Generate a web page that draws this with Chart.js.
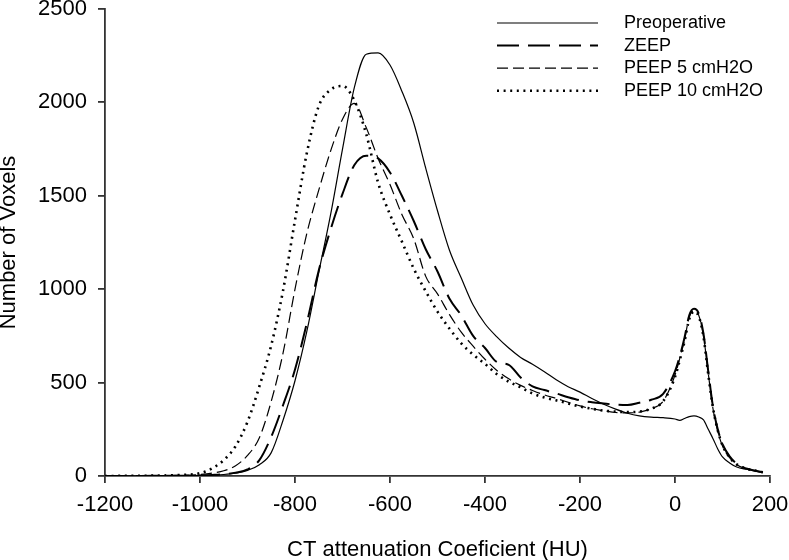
<!DOCTYPE html>
<html>
<head>
<meta charset="utf-8">
<title>CT attenuation histogram</title>
<script src="https://cdn.jsdelivr.net/npm/chart.js@4"></script>
<style>
  body { margin: 0; background: #fff; }
  canvas { display: block; }
</style>
</head>
<body>
<canvas id="chart" width="789" height="560"></canvas>
<script>
// HU bins (x values shared by all curves)
const hu = [-1200, -1150, -1100, -1050, -1000, -975, -950, -925, -900, -875, -850, -825, -800, -775, -750, -725,
  -700, -675, -650, -625, -600, -575, -550, -525, -500, -475, -450, -425, -400, -375, -350, -325, -300, -275,
  -250, -225, -200, -175, -150, -125, -100, -75, -50, -25, 0, 10, 20, 30, 40, 50, 60, 70, 80, 90, 100, 115,
  130, 150, 170, 185];

// Number of voxels
const preop = [0, 0, 1, 1, 3, 5, 8, 15, 30, 60, 125, 300, 510, 775, 1090, 1400,
  1750, 2080, 2258, 2265, 2200, 2060, 1890, 1650, 1420, 1210, 1060, 915, 815, 745, 685, 635, 598, 558,
  515, 478, 449, 415, 384, 358, 336, 322, 315, 312, 305, 298, 308, 318, 322, 316, 300, 250, 200, 145, 102, 70,
  48, 36, 27, 20];
const zeep = [0, 0, 1, 1, 3, 6, 10, 18, 35, 85, 210, 380, 570, 820, 1100, 1320,
  1510, 1665, 1715, 1700, 1625, 1500, 1365, 1215, 1095, 950, 860, 750, 685, 610, 595, 527, 480, 460,
  442, 422, 405, 395, 388, 382, 380, 392, 408, 440, 560, 640, 740, 860, 895, 870, 760, 560, 370, 250, 170, 105,
  65, 40, 28, 20];
const peep5 = [0, 0, 1, 3, 8, 15, 28, 55, 110, 205, 400, 660, 1000, 1300, 1530, 1740,
  1910, 1995, 1865, 1700, 1560, 1400, 1270, 1070, 975, 865, 770, 695, 625, 565, 520, 485, 458, 434,
  415, 395, 375, 360, 350, 340, 338, 342, 360, 400, 540, 630, 730, 850, 885, 860, 750, 550, 360, 240, 160, 98,
  60, 38, 26, 18];
const peep10 = [0, 1, 2, 5, 15, 40, 85, 160, 290, 480, 700, 995, 1370, 1730, 1980, 2068,
  2088, 2010, 1830, 1570, 1400, 1255, 1110, 990, 880, 790, 710, 650, 600, 545, 505, 475, 442, 420,
  405, 388, 372, 360, 350, 345, 342, 345, 360, 400, 530, 620, 720, 840, 880, 855, 745, 545, 365, 245, 165, 100,
  62, 40, 28, 20];

const seriesNames = ["Preoperative", "ZEEP", "PEEP 5 cmH2O", "PEEP 10 cmH2O"];
const xTicks = [-1200, -1000, -800, -600, -400, -200, 0, 200];
const yTicks = [0, 500, 1000, 1500, 2000, 2500];

const FONT = '"Liberation Sans", Arial, sans-serif';

function toPoints(values) {
  return hu.map((x, i) => ({ x: x, y: values[i] }));
}

// legend drawn top right, inside the plot, with line samples
const lineLegend = {
  id: "lineLegend",
  afterDraw(chart) {
    const ctx = chart.ctx;
    chart.data.datasets.forEach((ds, i) => {
      const y = 23 + i * 22.6;
      ctx.save();
      ctx.strokeStyle = "#000";
      ctx.lineWidth = ds.borderWidth;
      ctx.setLineDash(ds.borderDash || []);
      ctx.beginPath();
      ctx.moveTo(497, y);
      ctx.lineTo(598, y);
      ctx.stroke();
      ctx.setLineDash([]);
      ctx.fillStyle = "#000";
      ctx.font = "18px " + FONT;
      ctx.textBaseline = "middle";
      ctx.fillText(ds.label, 624, y);
      ctx.restore();
    });
  }
};

const common = { borderColor: "#000", pointRadius: 0, fill: false, cubicInterpolationMode: "monotone" };

new Chart(document.getElementById("chart"), {
  type: "line",
  data: {
    datasets: [
      { ...common, label: seriesNames[0], data: toPoints(preop), borderWidth: 1.2 },
      { ...common, label: seriesNames[1], data: toPoints(zeep), borderWidth: 2, borderDash: [22, 9] },
      { ...common, label: seriesNames[2], data: toPoints(peep5), borderWidth: 1.2, borderDash: [11, 5] },
      { ...common, label: seriesNames[3], data: toPoints(peep10), borderWidth: 2.6, borderDash: [2, 4.6] }
    ]
  },
  options: {
    responsive: false,
    animation: false,
    layout: { padding: { top: 9, right: 19, left: 0, bottom: 0 } },
    plugins: { legend: { display: false }, tooltip: { enabled: false } },
    scales: {
      x: {
        type: "linear",
        min: -1200,
        max: 200,
        afterFit(scale) {
          scale.height = 84;
          scale.paddingLeft = 0;
          scale.paddingRight = 0;
        },
        afterBuildTicks(scale) { scale.ticks = xTicks.map(v => ({ value: v })); },
        grid: { drawOnChartArea: false, drawTicks: true, tickLength: 7, color: "#333", lineWidth: 1.8 },
        border: { display: true, color: "#333", width: 1.8 },
        ticks: {
          color: "#000", padding: 9, maxRotation: 0,
          font: { family: FONT, size: 22 },
          callback: v => String(v)
        },
        title: {
          display: true, text: "CT attenuation Coeficient (HU)", color: "#000",
          font: { family: FONT, size: 22, lineHeight: 0.95 }, padding: 0
        }
      },
      y: {
        min: 0,
        max: 2500,
        afterFit(scale) {
          scale.width = 105;
          scale.paddingTop = 0;
          scale.paddingBottom = 0;
        },
        afterBuildTicks(scale) { scale.ticks = yTicks.map(v => ({ value: v })); },
        grid: { drawOnChartArea: false, drawTicks: true, tickLength: 7, color: "#333", lineWidth: 1.8 },
        border: { display: true, color: "#333", width: 1.8 },
        ticks: {
          color: "#000", padding: 11,
          font: { family: FONT, size: 22 },
          callback: v => String(v)
        },
        title: {
          display: true, text: "Number of Voxels", color: "#000",
          font: { family: FONT, size: 22, lineHeight: 0.8 }, padding: 0
        }
      }
    }
  },
  plugins: [lineLegend]
});
</script>
</body>
</html>
